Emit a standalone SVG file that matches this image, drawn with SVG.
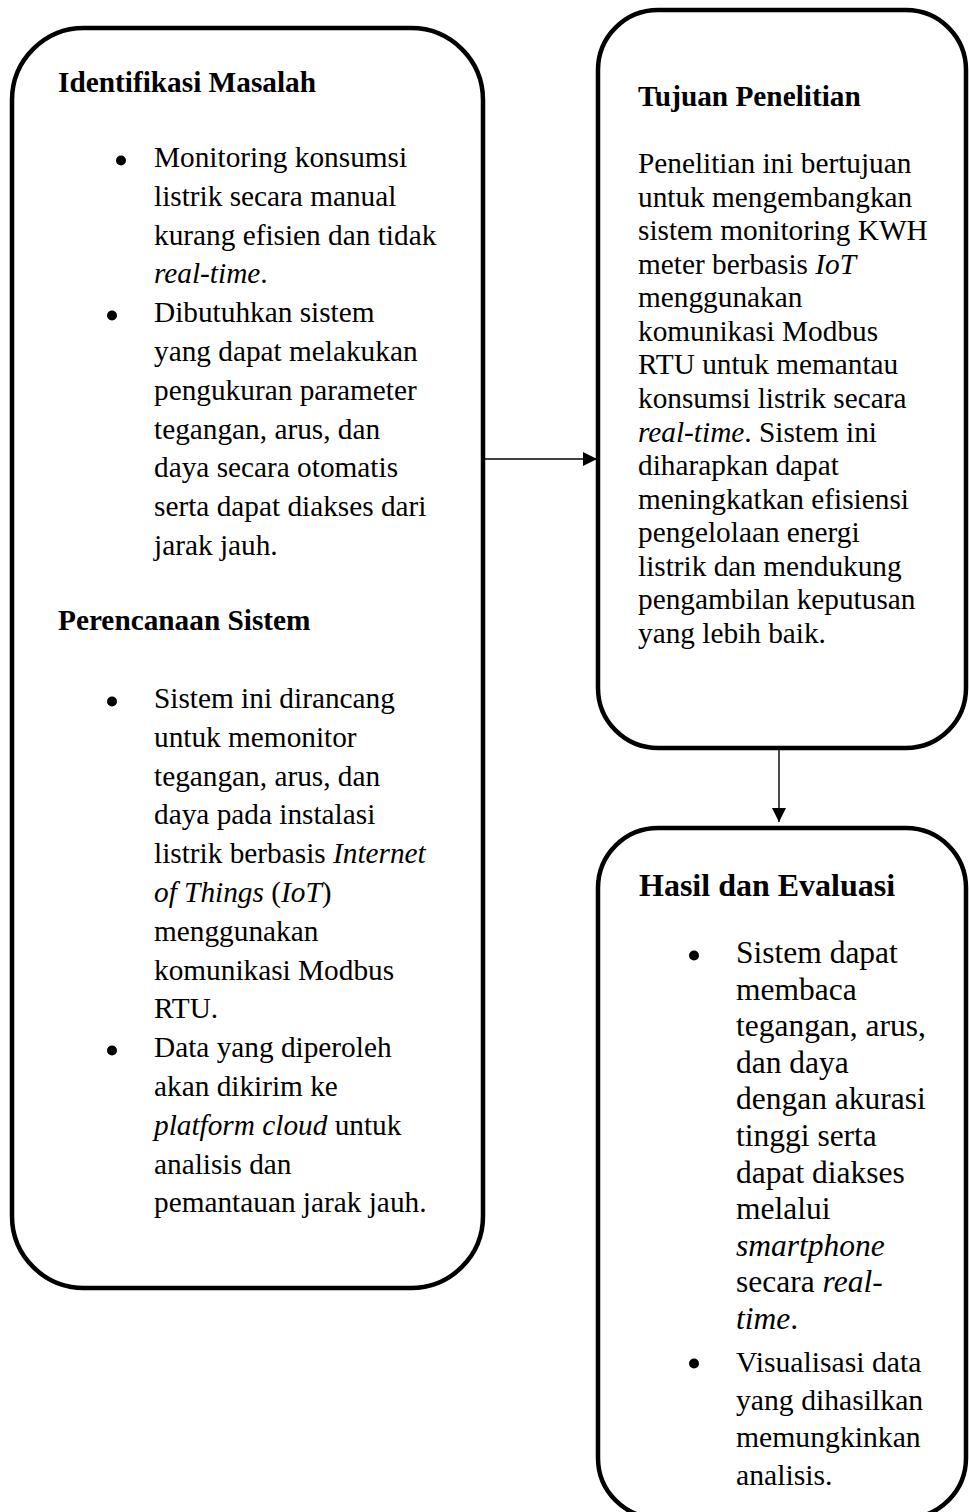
<svg xmlns="http://www.w3.org/2000/svg" width="969" height="1512" viewBox="0 0 969 1512">
<style>
.box{fill:#fff;stroke:#000;stroke-width:4.5}
text{font-family:"Liberation Serif","Times New Roman",serif;fill:#000}
.h{font-size:29.3px;font-weight:bold}
.h2{font-size:32px;font-weight:bold}
.t{font-size:29.3px}
.t2{font-size:31.5px}
.t3{font-size:29.7px}
.i{font-style:italic}
.dot{fill:#000}
.conn{stroke:#000;stroke-width:1.4;fill:none;marker-end:url(#arrow)}
</style>
<defs>
<marker id="arrow" viewBox="0 0 14 14" refX="14" refY="7" markerWidth="14" markerHeight="14" markerUnits="userSpaceOnUse" orient="auto">
<path d="M0,0 L14,7 L0,14 z" fill="#000"/>
</marker>
</defs>
<rect width="969" height="1512" fill="#fff"/>
<g id="connectors">
<line class="conn" x1="485" y1="459" x2="597" y2="459"/>
<line class="conn" x1="779" y1="750" x2="779" y2="822"/>
</g>
<g id="node-identifikasi">
<rect class="box" x="12" y="28" width="471" height="1260" rx="72" ry="72"/>
<text class="h" x="58" y="92">Identifikasi Masalah</text>
<circle class="dot" cx="121" cy="160.5" r="5"/>
<circle class="dot" cx="112" cy="315.5" r="5"/>
<text class="t" x="154" y="167">Monitoring konsumsi</text>
<text class="t" x="154" y="205.8">listrik secara manual</text>
<text class="t" x="154" y="244.6">kurang efisien dan tidak</text>
<text class="t" x="154" y="283.4"><tspan class="i">real-time</tspan>.</text>
<text class="t" x="154" y="322.2">Dibutuhkan sistem</text>
<text class="t" x="154" y="361">yang dapat melakukan</text>
<text class="t" x="154" y="399.8">pengukuran parameter</text>
<text class="t" x="154" y="438.6">tegangan, arus, dan</text>
<text class="t" x="154" y="477.4">daya secara otomatis</text>
<text class="t" x="154" y="516.2">serta dapat diakses dari</text>
<text class="t" x="154" y="555">jarak jauh.</text>
<text class="h" x="58" y="630">Perencanaan Sistem</text>
<circle class="dot" cx="112" cy="701.5" r="5"/>
<circle class="dot" cx="112" cy="1050.5" r="5"/>
<text class="t" x="154" y="708">Sistem ini dirancang</text>
<text class="t" x="154" y="746.8">untuk memonitor</text>
<text class="t" x="154" y="785.6">tegangan, arus, dan</text>
<text class="t" x="154" y="824.4">daya pada instalasi</text>
<text class="t" x="154" y="863.2">listrik berbasis <tspan class="i">Internet</tspan></text>
<text class="t" x="154" y="902"><tspan class="i">of Things</tspan> (<tspan class="i">IoT</tspan>)</text>
<text class="t" x="154" y="940.8">menggunakan</text>
<text class="t" x="154" y="979.6">komunikasi Modbus</text>
<text class="t" x="154" y="1018.4">RTU.</text>
<text class="t" x="154" y="1057.2">Data yang diperoleh</text>
<text class="t" x="154" y="1096">akan dikirim ke</text>
<text class="t" x="154" y="1134.8"><tspan class="i">platform cloud</tspan> untuk</text>
<text class="t" x="154" y="1173.6">analisis dan</text>
<text class="t" x="154" y="1212.4">pemantauan jarak jauh.</text>
</g>
<g id="node-tujuan">
<rect class="box" x="598" y="10" width="368" height="738" rx="60" ry="60"/>
<text class="h" x="638" y="106">Tujuan Penelitian</text>
<text class="t" x="638" y="173">Penelitian ini bertujuan</text>
<text class="t" x="638" y="206.6">untuk mengembangkan</text>
<text class="t" x="638" y="240.1">sistem monitoring KWH</text>
<text class="t" x="638" y="273.7">meter berbasis <tspan class="i">IoT</tspan></text>
<text class="t" x="638" y="307.3">menggunakan</text>
<text class="t" x="638" y="340.9">komunikasi Modbus</text>
<text class="t" x="638" y="374.4">RTU untuk memantau</text>
<text class="t" x="638" y="408">konsumsi listrik secara</text>
<text class="t" x="638" y="441.6"><tspan class="i">real-time</tspan>. Sistem ini</text>
<text class="t" x="638" y="475.1">diharapkan dapat</text>
<text class="t" x="638" y="508.7">meningkatkan efisiensi</text>
<text class="t" x="638" y="542.3">pengelolaan energi</text>
<text class="t" x="638" y="575.9">listrik dan mendukung</text>
<text class="t" x="638" y="609.4">pengambilan keputusan</text>
<text class="t" x="638" y="643">yang lebih baik.</text>
</g>
<g id="node-hasil">
<rect class="box" x="598" y="828" width="368" height="690" rx="60" ry="60"/>
<text class="h2" x="639" y="896">Hasil dan Evaluasi</text>
<circle class="dot" cx="694" cy="955.5" r="5"/>
<circle class="dot" cx="694" cy="1363.5" r="5"/>
<text class="t2" x="736" y="963">Sistem dapat</text>
<text class="t2" x="736" y="999.6">membaca</text>
<text class="t2" x="736" y="1036.2">tegangan, arus,</text>
<text class="t2" x="736" y="1072.8">dan daya</text>
<text class="t2" x="736" y="1109.4">dengan akurasi</text>
<text class="t2" x="736" y="1146">tinggi serta</text>
<text class="t2" x="736" y="1182.6">dapat diakses</text>
<text class="t2" x="736" y="1219.2">melalui</text>
<text class="t2" x="736" y="1255.8"><tspan class="i">smartphone</tspan></text>
<text class="t2" x="736" y="1292.4">secara <tspan class="i">real-</tspan></text>
<text class="t2" x="736" y="1329"><tspan class="i">time</tspan>.</text>
<text class="t3" x="736" y="1372">Visualisasi data</text>
<text class="t3" x="736" y="1409.7">yang dihasilkan</text>
<text class="t3" x="736" y="1447.3">memungkinkan</text>
<text class="t3" x="736" y="1485">analisis.</text>
</g>
</svg>
